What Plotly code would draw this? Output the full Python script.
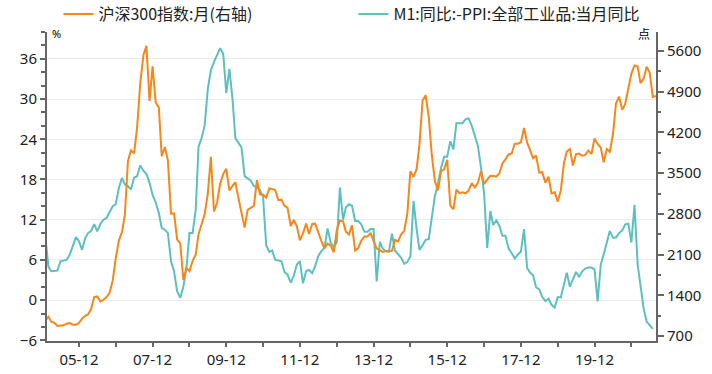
import pandas as pd
import plotly.graph_objects as go

# Monthly dates 2005-01 .. 2021-08
dates = pd.date_range("2005-01-01", periods=200, freq="MS")

# CSI 300 monthly (points, right axis), 2005-01 .. 2021-08
csi300 = [
    968, 1030, 945, 925, 872, 872, 883, 912, 923, 895, 895, 923,          # 2005
    1000, 1048, 1071, 1168, 1369, 1380, 1294, 1323, 1369, 1444, 1656, 2041,  # 2006
    2344, 2488, 2781, 3709, 3892, 3840, 4290, 5050, 5530, 5688, 4740, 5338,  # 2007
    4716, 4631, 3790, 3950, 3720, 2803, 2810, 2356, 2293, 1665, 1868, 1817,  # 2008
    1992, 2100, 2450, 2626, 2795, 3150, 3780, 2841, 2996, 3316, 3488, 3575,  # 2009
    3204, 3282, 3345, 3068, 2811, 2563, 2868, 2903, 2936, 3380, 3136, 3128,  # 2010
    3077, 3239, 3223, 3210, 3036, 3044, 2937, 2903, 2592, 2696, 2588, 2346,  # 2011
    2464, 2634, 2455, 2627, 2632, 2461, 2332, 2204, 2293, 2254, 2140, 2523,  # 2012
    2688, 2673, 2495, 2447, 2604, 2172, 2209, 2338, 2409, 2409, 2474, 2331,  # 2013
    2203, 2178, 2146, 2159, 2158, 2165, 2351, 2327, 2450, 2509, 2809, 3533,  # 2014
    3434, 3572, 3992, 4749, 4841, 4473, 3817, 3366, 3203, 3534, 3566, 3731,  # 2015
    2946, 2877, 3218, 3156, 3169, 3154, 3203, 3327, 3253, 3336, 3538, 3311,  # 2016
    3387, 3453, 3456, 3439, 3493, 3666, 3737, 3822, 3837, 4006, 4006, 4031,  # 2017
    4275, 4024, 3899, 3757, 3802, 3510, 3517, 3335, 3438, 3153, 3173, 3011,  # 2018
    3202, 3670, 3872, 3913, 3630, 3826, 3836, 3799, 3814, 3887, 3828, 4097,  # 2019
    4003, 3940, 3686, 3912, 3868, 4164, 4696, 4816, 4588, 4695, 4960, 5211,  # 2020
    5351, 5336, 5048, 5123, 5331, 5224, 4811, 4828,                          # 2021
]

# M1 YoY minus PPI YoY (%, left axis), 2005-01 .. 2021-07
m1_ppi = [
    9.5, 5.0, 4.3, 4.3, 4.4, 5.8, 5.9, 6.0, 6.8, 8.0, 9.4, 8.8,            # 2005
    7.5, 9.25, 10.0, 10.35, 11.35, 10.25, 11.35, 12.0, 12.25, 13.15, 14.0, 14.3,  # 2006
    16.75, 18.25, 17.25, 17.0, 16.5, 18.25, 18.5, 20.1, 19.3, 18.8, 17.5, 15.7,   # 2007
    14.6, 13.0, 10.75, 10.5, 10.0, 5.8, 4.3, 1.3, 0.35, 2.0, 4.8, 10.0,     # 2008
    10.0, 13.5, 22.9, 24.2, 26.1, 31.5, 34.3, 35.5, 36.5, 37.6, 36.7, 30.9,  # 2009
    34.5, 30.0, 24.2, 23.5, 22.75, 18.5, 18.1, 17.8, 17.0, 16.9, 16.4, 15.4,  # 2010
    8.2, 7.2, 7.4, 6.0, 5.9, 5.8, 4.2, 3.8, 2.6, 3.6, 5.3, 5.8,             # 2011
    2.5, 4.35, 4.5, 4.0, 5.1, 6.6, 7.3, 7.8, 10.7, 8.6, 7.9, 8.6,           # 2012
    16.8, 12.0, 13.8, 14.3, 14.1, 11.8, 11.8, 11.3, 10.2, 10.2, 10.6, 10.6,  # 2013
    2.8, 8.7, 7.7, 7.3, 7.2, 9.9, 7.4, 6.8, 6.3, 5.4, 5.7, 6.5,             # 2014
    14.8, 10.6, 7.5, 8.2, 9.0, 9.1, 12.0, 15.5, 17.4, 19.7, 21.4, 21.4,     # 2015
    23.7, 22.5, 26.4, 26.35, 26.4, 27.0, 27.1, 26.0, 24.5, 23.0, 19.7, 15.9,  # 2016
    7.8, 13.3, 11.2, 11.9, 11.1, 9.6, 9.6, 7.7, 7.0, 6.2, 6.8, 7.2,         # 2017
    10.6, 4.8, 4.1, 3.7, 1.9, 1.6, 0.5, -0.15, 0.2, -0.7, -1.1, 0.45,       # 2018
    0.4, 2.2, 4.1, 2.0, 3.0, 4.2, 3.45, 4.3, 4.7, 4.85, 4.85, 4.6,          # 2019
    -0.2, 5.3, 6.8, 8.7, 10.3, 9.3, 9.35, 10.0, 10.4, 11.3, 11.4, 8.6,      # 2020
    14.2, 5.3, 2.4, -1.2, -3.2, -3.8, -4.3,                                 # 2021
]

tick_dates = ["%d-12-01" % y for y in range(2005, 2021)]
tick_text = [("%02d-12" % (y % 100)) if (y - 2005) % 2 == 0 else "" for y in range(2005, 2021)]

ORANGE = "#F7861B"
TEAL = "#5CC0BF"
AXIS = "#666666"
TXT = "#222222"

fig = go.Figure()
fig.add_trace(go.Scatter(
    x=dates[:len(csi300)], y=csi300, name="沪深300指数:月(右轴)", yaxis="y2",
    mode="lines", line=dict(color=ORANGE, width=2),
))
fig.add_trace(go.Scatter(
    x=dates[:len(m1_ppi)], y=m1_ppi, name="M1:同比:-PPI:全部工业品:当月同比",
    mode="lines", line=dict(color=TEAL, width=2),
))

fig.update_layout(
    width=712, height=374,
    margin=dict(l=47, r=56, t=32, b=33, pad=0, autoexpand=False),
    paper_bgcolor="white", plot_bgcolor="white",
    font=dict(family="Noto Sans, Noto Sans CJK SC", size=15, color=TXT),
    showlegend=True,
    legend=dict(
        orientation="h", x=0.0188, y=1.058, xanchor="left", yanchor="middle",
        font=dict(family="Noto Sans CJK SC", size=16, color=TXT),
        entrywidth=250, entrywidthmode="pixels",
        bgcolor="rgba(0,0,0,0)", borderwidth=0,
        tracegroupgap=0,
    ),
    xaxis=dict(
        type="date", range=["2005-01-18", "2021-08-02"],
        tickmode="array", tickvals=tick_dates, ticktext=tick_text,
        ticks="outside", ticklen=4, tickwidth=2, tickcolor=AXIS,
        showline=True, linecolor=AXIS, linewidth=2,
        showgrid=False, zeroline=False,
        tickfont=dict(family="Noto Sans", size=15, color=TXT),
    ),
    yaxis=dict(
        range=[-6.1, 40], tickmode="linear", tick0=0, dtick=6,
        ticks="outside", ticklen=5, tickwidth=2, tickcolor=AXIS,
        minor=dict(tickmode="linear", tick0=0, dtick=2, ticks="outside", ticklen=4,
                   tickwidth=2, tickcolor=AXIS, showgrid=False),
        showline=True, linecolor=AXIS, linewidth=2,
        showgrid=True, gridcolor="#EBEBEB", gridwidth=1, zeroline=False,
        tickfont=dict(family="Noto Sans", size=15, color=TXT),
    ),
    yaxis2=dict(
        overlaying="y", side="right", range=[614, 5927],
        tickmode="linear", tick0=700, dtick=700,
        ticks="outside", ticklen=6, tickwidth=2, tickcolor=AXIS,
        minor=dict(tickmode="linear", tick0=700, dtick=350, ticks="outside", ticklen=3,
                   tickwidth=2, tickcolor=AXIS, showgrid=False),
        showline=True, linecolor=AXIS, linewidth=2,
        showgrid=False, zeroline=False,
        tickfont=dict(family="Noto Sans", size=15, color=TXT),
    ),
    annotations=[
        dict(text="%", xref="paper", yref="paper", x=0.005, y=0.995,
             xanchor="left", yanchor="middle", showarrow=False,
             font=dict(family="Noto Sans", size=11, color="#000")),
        dict(text="点", xref="paper", yref="paper", x=0.993, y=0.995,
             xanchor="right", yanchor="middle", showarrow=False,
             font=dict(family="Noto Sans CJK SC", size=12, color="#000")),
    ],
)

fig.write_html(
    "out.html",
    config={"displayModeBar": False},
    post_script="document.body.style.margin='0px'; document.body.style.overflow='hidden';",
)
